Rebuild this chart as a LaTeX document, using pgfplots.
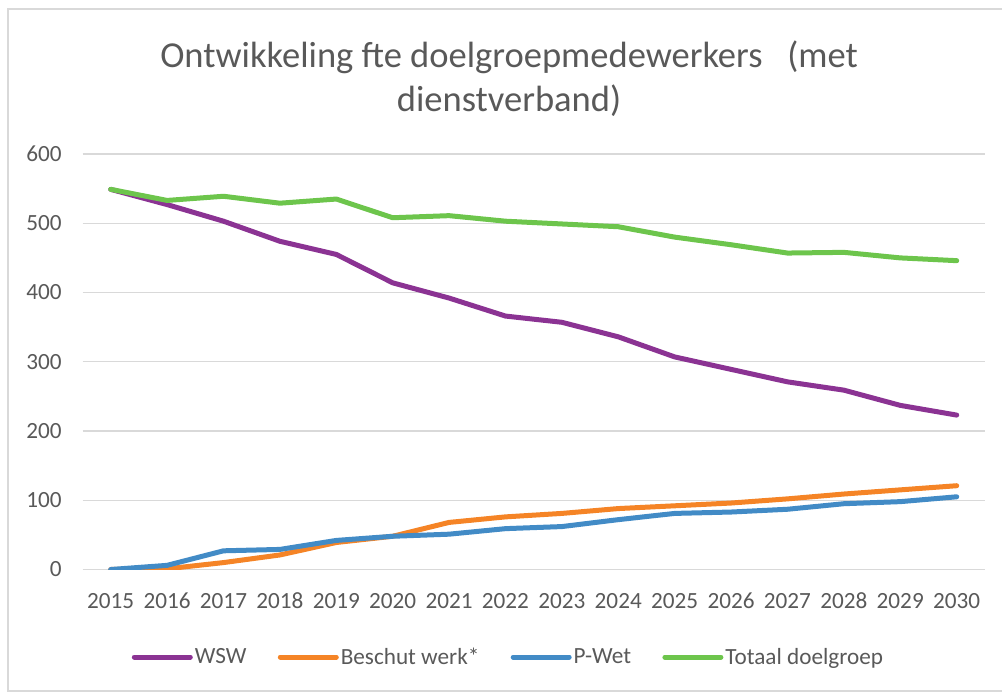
\documentclass[border=0pt]{standalone}
\usepackage{pgfplots}
\pgfplotsset{compat=1.18}
\usepackage{pgfplotstable}
\usepackage{fontspec}
\setmainfont{Carlito}
\definecolor{txt}{HTML}{595959}
\definecolor{gridc}{HTML}{D9D9D9}
\definecolor{cwsw}{HTML}{8B3393}
\definecolor{cbes}{HTML}{F58426}
\definecolor{cpw}{HTML}{428BC6}
\definecolor{ctot}{HTML}{6DC54C}
\pgfplotstableread{
year wsw bes pwet tot
2015 549 0 0 549
2016 527 1 6 533
2017 503 10 27 539
2018 474 21 29 529
2019 455 39 42 535
2020 414 48 48 508
2021 392 68 51 511
2022 366 76 59 503
2023 357 81 62 499
2024 336 88 72 495
2025 307 92 81 480
2026 289 96 83 469
2027 271 102 87 457
2028 259 109 95 458
2029 237 115 98 450
2030 223 121 105 446
}\data
\begin{document}
\begin{tikzpicture}[x=0.75pt,y=0.75pt]
\path[use as bounding box] (0,0) rectangle (1002,693);
\draw[gridc, line width=1.5pt] (1002,2) -- (7.5,2) -- (7.5,684) -- (1002,684);
\node[txt, align=center, font=\fontsize{27.4}{33}\selectfont, anchor=center] at (509,614) {Ontwikkeling fte doelgroepmedewerkers\ \ \ (met\\dienstverband)};
\begin{axis}[
  at={(61.875pt,92.625pt)}, anchor=south west,
  scale only axis, width=676.8pt, height=311.6pt,
  xmin=2014.5, xmax=2030.5, ymin=0, ymax=600,
  xtick={2015,...,2030}, ytick={0,100,...,600},
  axis line style={draw=none},
  major tick length=0pt,
  ymajorgrids, grid style={gridc, line width=0.9pt},
  /pgf/number format/assume math mode=true,
  xticklabel style={/pgf/number format/1000 sep={}, anchor=center, inner sep=0pt, yshift=-23.6pt},
  yticklabel style={anchor=east, inner sep=0pt, xshift=-15.4pt},
  tick label style={txt, font=\fontsize{17.4}{20}\selectfont},
  every axis plot/.append style={line width=3.75pt, line join=round, line cap=round},
  legend columns=4,
  legend style={at={(0.472,-0.2106)}, anchor=center, draw=none, fill=none,
    font=\fontsize{17.4}{20}\selectfont, text=txt,
    /tikz/every even column/.append style={column sep=22pt},
    nodes={inner sep=1.5pt}},
  legend image code/.code={\draw[#1, line width=3.75pt, line cap=round] (0pt,0pt) -- (42pt,0pt);},
]
\addplot[cwsw] table[x=year,y=wsw] {\data};
\addlegendentry{WSW}
\addplot[cbes] table[x=year,y=bes] {\data};
\addlegendentry{Beschut werk*}
\addplot[cpw] table[x=year,y=pwet] {\data};
\addlegendentry{P-Wet}
\addplot[ctot] table[x=year,y=tot] {\data};
\addlegendentry{Totaal doelgroep}
\end{axis}
\end{tikzpicture}
\end{document}
